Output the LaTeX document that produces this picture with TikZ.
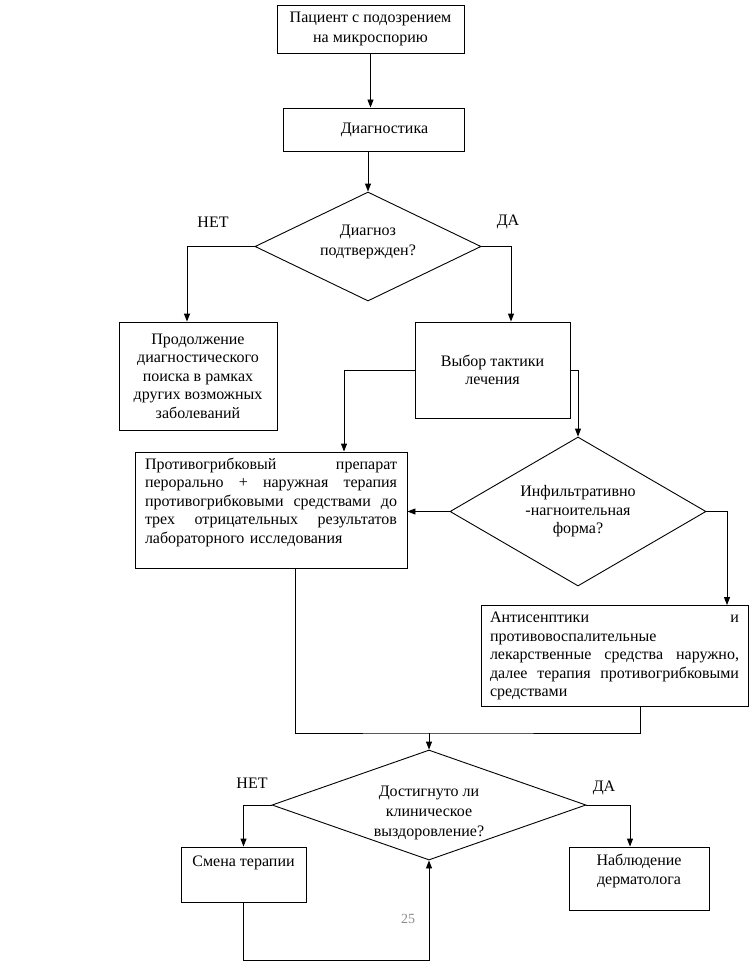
\documentclass[tikz,border=0pt]{standalone}
\usepackage{fontspec}
\setmainfont{Liberation Serif}
\usetikzlibrary{arrows.meta}
\usetikzlibrary{shapes.geometric}
\usetikzlibrary{positioning}
\tikzstyle{stepbox}=[rectangle,draw=black,line width=0.9pt,inner sep=0pt,align=center,font=\fontsize{16}{18.5}\selectfont]
\tikzstyle{question}=[diamond,draw=black,line width=0.9pt,inner sep=0pt,align=center,font=\fontsize{16}{20}\selectfont]
\tikzstyle{answer}=[font=\fontsize{16}{18.5}\selectfont]
\tikzstyle{edge} = [draw,line width=0.9pt,-{Triangle[length=8pt,width=6pt]}]
\tikzstyle{plainedge} = [draw,line width=0.9pt]
\newcommand{\fullline}[2]{{\spaceskip=0.25em plus 1fill\makebox[#1][s]{#2}}}

\begin{document}
\begin{tikzpicture}[x=1pt,y=-1pt]
    \useasboundingbox (0,0) rectangle (749,963);

    % boxes
    \node[stepbox,minimum width=187pt,minimum height=48pt,font=\fontsize{16}{20}\selectfont] (patient) at (370.5,29) {Пациент с подозрением\\на микроспорию};
    \node[stepbox,minimum width=181pt,minimum height=43pt] (diag) at (373.5,129.5) {\hspace*{22pt}Диагностика};
    \node[stepbox,minimum width=158pt,minimum height=108pt] (search) at (198,376) {Продолжение\\диагностического\\поиска в рамках\\других возможных\\заболеваний};
    \node[stepbox,minimum width=155pt,minimum height=96pt] (tactic) at (492.5,370) {Выбор тактики\\лечения};
    \node[stepbox,minimum width=272pt,minimum height=116pt,text width=252pt,align=left] (oral) at (271,510)
        {\fullline{252pt}{Противогрибковый препарат}\\
         \fullline{252pt}{перорально + наружная терапия}\\
         \fullline{252pt}{противогрибковыми средствами до}\\
         \fullline{252pt}{трех отрицательных результатов}\\
         лабораторного исследования\\ \mbox{}};
    \node[stepbox,minimum width=267pt,minimum height=101pt,text width=249pt,align=left] (antisept) at (614.5,656)
        {\fullline{249pt}{Антисенптики и}\\
         противовоспалительные\\
         \fullline{249pt}{лекарственные средства наружно,}\\
         \fullline{249pt}{далее терапия противогрибковыми}\\
         средствами};
    \node[stepbox,minimum width=125pt,minimum height=55pt] (change) at (243.5,874.5) {Смена терапии\\[8pt]\mbox{}};
    \node[stepbox,minimum width=140pt,minimum height=63pt] (derm) at (639,878.5) {Наблюдение\\дерматолога\\\mbox{}};

    % decisions
    \node[question,aspect=2,minimum width=226pt,minimum height=109pt] (confirmed) at (368,246.5) {Диагноз\\подтвержден?\\[-8pt]\mbox{}};
    \node[question,aspect=1.7,minimum width=256pt,minimum height=149pt,font=\fontsize{16}{18.5}\selectfont] (infilt) at (578,511.5) {Инфильтративно\\-нагноительная\\форма?};
    \node[question,aspect=2.85,minimum width=314pt,minimum height=110pt] (recovered) at (429,805) {\rule{0pt}{27pt}Достигнуто ли\\клиническое\\выздоровление?};

    % answers
    \node[answer] (no1) at (213,222) {НЕТ};
    \node[answer] (yes1) at (508,222) {ДА};
    \node[answer] (no2) at (252,783) {НЕТ};
    \node[answer] (yes2) at (604,788) {ДА};
    \node[font=\fontsize{14}{16}\selectfont,text=black!45] (page) at (408,919) {25};

    \coordinate (merge) at (429,733);
    \coordinate (bottom) at (0,960);

    % connectors
    \path[edge] (patient.south) -- (patient.south |- diag.north);
    \path[edge] (confirmed.north |- diag.south) -- (confirmed.north);
    \path[edge] (confirmed.west) -| ([xshift=-11pt]search.north);
    \path[edge] (confirmed.east) -| ([xshift=18.5pt]tactic.north);
    \path[edge] (tactic.west) -| ([xshift=73pt]oral.north);
    \path[edge] (tactic.east) -| (infilt.north);
    \path[edge] (infilt.west) -- (infilt.west -| oral.east);
    \path[edge] (infilt.east) -| ([xshift=112.5pt]antisept.north);
    \path[plainedge] ([xshift=24pt]oral.south) |- (merge) -| ([xshift=25.5pt]antisept.south);
    \path[edge] (merge) -- (recovered.north);
    \path[edge] (recovered.west) -| (change.north);
    \path[edge] (recovered.east) -| ([xshift=-9pt]derm.north);
    \path[edge] (change.south) |- (recovered.south |- bottom) -- (recovered.south);
\end{tikzpicture}
\end{document}
